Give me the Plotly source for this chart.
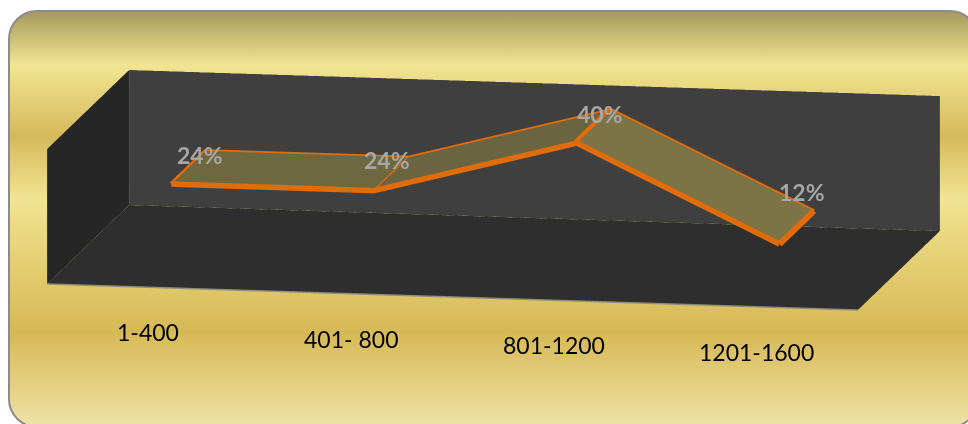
import base64
import math
import plotly.graph_objects as go

# Share of records per range
categories = ["1-400", "401- 800", "801-1200", "1201-1600"]
values = [24, 24, 40, 12]
value_labels = ["24%", "24%", "40%", "12%"]
segment_colors = ["#6e6840", "#6a6440", "#7c7444"]

ORANGE = "#e36c0a"
X_MAX, Y_MAX, Z_MAX = 4, 1, 40
RIBBON_FRONT, RIBBON_BACK = 0.28, 0.70
xs = [i + 0.5 for i in range(len(categories))]

# Gold card behind the chart
svg = """<svg xmlns='http://www.w3.org/2000/svg' width='968' height='424'>
<defs><linearGradient id='g' x1='0' y1='0' x2='0' y2='1'>
<stop offset='0' stop-color='#a6985f'/><stop offset='0.13' stop-color='#f2e592'/>
<stop offset='0.30' stop-color='#d5b95c'/><stop offset='0.45' stop-color='#f2e492'/>
<stop offset='0.77' stop-color='#d6b955'/><stop offset='1' stop-color='#f0e2a8'/>
</linearGradient></defs>
<rect x='9' y='11' width='969' height='416' rx='28' ry='28' fill='url(#g)' stroke='#8c8c8c' stroke-width='2'/>
</svg>"""
background = "data:image/svg+xml;base64," + base64.b64encode(svg.encode()).decode()


def panel(px, py, pz, color):
    """One flat, unlit quadrilateral."""
    return go.Mesh3d(x=px, y=py, z=pz, i=[0, 0], j=[1, 2], k=[2, 3], color=color,
                     flatshading=True, hoverinfo="skip",
                     lighting=dict(ambient=1, diffuse=0, specular=0, fresnel=0))


fig = go.Figure()

# Chart box: back wall, side wall and floor
fig.add_trace(panel([0, X_MAX, X_MAX, 0], [Y_MAX] * 4, [0, 0, Z_MAX, Z_MAX], "#3f3f3f"))
fig.add_trace(panel([0] * 4, [0, Y_MAX, Y_MAX, 0], [0, 0, Z_MAX, Z_MAX], "#262626"))
fig.add_trace(panel([0, X_MAX, X_MAX, 0], [0, 0, Y_MAX, Y_MAX], [0] * 4, "#2e2e2e"))

# Ribbon faces between consecutive categories
for n in range(len(values) - 1):
    fig.add_trace(panel([xs[n], xs[n + 1], xs[n + 1], xs[n]],
                        [RIBBON_FRONT, RIBBON_FRONT, RIBBON_BACK, RIBBON_BACK],
                        [values[n], values[n + 1], values[n + 1], values[n]],
                        segment_colors[n]))


def edge(px, py, pz, width, color=ORANGE):
    fig.add_trace(go.Scatter3d(x=px, y=py, z=pz, mode="lines", hoverinfo="skip",
                               line=dict(color=color, width=width)))


# Pale rim along the front of the floor
edge([0, X_MAX], [0, 0], [0, 0], 3, "#8f8d80")

# Ribbon outline: heavy along the front, lighter along the back and the joins
edge(xs, [RIBBON_FRONT] * len(xs), values, 11)
edge(xs, [RIBBON_BACK] * len(xs), values, 7)
for x, v, w in zip(xs, values, (9, 5, 16, 12)):
    edge([x, x], [RIBBON_FRONT, RIBBON_BACK], [v, v], w)

label_font = dict(family="Lato, Carlito, sans-serif", size=23, color="#a6a6a6", weight="bold")
annotations = []
for x, v, text, dx, dy in zip(xs, values, value_labels, (-6, -22, -11, -12), (-4, -3, -4, 19)):
    annotations.append(dict(x=x, y=RIBBON_BACK, z=v, text=text, showarrow=False,
                            font=label_font, xshift=dx, yshift=dy))
for x, name in zip(xs, categories):
    annotations.append(dict(x=x, y=0, z=0, text=name, showarrow=False, yshift=-45,
                            font=dict(family="Lato, Carlito, sans-serif", size=23, color="#000000")))

# Orthographic view: near-frontal, slightly from above and to the right
theta = math.radians(10.35)
phi = math.radians(10.13)
dist = 1.5
zoom = 2.41
axis_off = dict(visible=False, showspikes=False)
fig.update_layout(
    width=968, height=424, margin=dict(l=0, r=0, t=0, b=0),
    paper_bgcolor="rgba(0,0,0,0)", showlegend=False,
    images=[dict(source=background, xref="paper", yref="paper", x=0, y=1, sizex=1, sizey=1,
                 sizing="stretch", layer="below", xanchor="left", yanchor="top")],
    scene=dict(
        domain=dict(x=[0.0196, 1], y=[0.1038, 1]),
        bgcolor="rgba(0,0,0,0)",
        xaxis=dict(range=[0, X_MAX], **axis_off),
        yaxis=dict(range=[0, Y_MAX], **axis_off),
        zaxis=dict(range=[0, Z_MAX], **axis_off),
        aspectmode="manual",
        aspectratio=dict(x=1.8 * zoom, y=0.997 * zoom, z=0.2996 * zoom),
        camera=dict(projection=dict(type="orthographic"), up=dict(x=0, y=0, z=1),
                    eye=dict(x=dist * math.sin(theta) * math.cos(phi),
                             y=-dist * math.cos(theta) * math.cos(phi),
                             z=dist * math.sin(phi))),
        annotations=annotations,
    ),
)
fig.write_html("out.html")
